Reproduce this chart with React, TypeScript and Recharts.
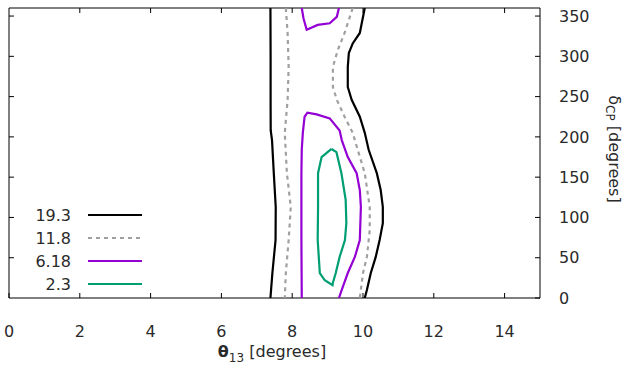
import React from "react";
import { ScatterChart, Scatter, XAxis, YAxis, ReferenceLine } from "recharts";

type P = { x: number; y: number };

const xTicks = [0, 2, 4, 6, 8, 10, 12, 14];
const yTicks = [0, 50, 100, 150, 200, 250, 300, 350];
const X_MAX = 15;
const Y_MAX = 360;

const levelLabels = ["19.3", "11.8", "6.18", "2.3"];
const levelColors = ["#000000", "#a0a0a0", "#9400d3", "#009e73"];
const levelDash = ["", "4 4", "", ""];

// 19.3 contour (two branches)
const c193Left: P[] = [
  { x: 7.385, y: 360 }, { x: 7.39, y: 300 }, { x: 7.39, y: 240 }, { x: 7.393, y: 208 },
  { x: 7.43, y: 196 }, { x: 7.48, y: 155 }, { x: 7.535, y: 113 }, { x: 7.53, y: 72 },
  { x: 7.44, y: 31 }, { x: 7.385, y: 0 },
];
const c193Right: P[] = [
  { x: 10.05, y: 360 }, { x: 9.91, y: 329 }, { x: 9.71, y: 316 }, { x: 9.6, y: 304 },
  { x: 9.57, y: 287 }, { x: 9.57, y: 262 }, { x: 9.68, y: 246 }, { x: 9.91, y: 225 },
  { x: 10.05, y: 205 }, { x: 10.16, y: 184 }, { x: 10.39, y: 155 }, { x: 10.5, y: 134 },
  { x: 10.56, y: 113 }, { x: 10.56, y: 93 }, { x: 10.47, y: 72 }, { x: 10.36, y: 51 },
  { x: 10.22, y: 31 }, { x: 10.11, y: 10 }, { x: 10.05, y: 0 },
];
// 11.8 contour
const c118Left: P[] = [
  { x: 7.82, y: 360 }, { x: 7.87, y: 329 }, { x: 7.9, y: 287 }, { x: 7.87, y: 246 },
  { x: 7.79, y: 205 }, { x: 7.85, y: 155 }, { x: 7.96, y: 113 }, { x: 7.9, y: 72 },
  { x: 7.82, y: 31 }, { x: 7.79, y: 0 },
];
const c118Right: P[] = [
  { x: 9.71, y: 360 }, { x: 9.48, y: 329 }, { x: 9.29, y: 308 }, { x: 9.15, y: 287 },
  { x: 9.15, y: 262 }, { x: 9.26, y: 246 }, { x: 9.48, y: 225 }, { x: 9.71, y: 205 },
  { x: 9.85, y: 184 }, { x: 10.05, y: 155 }, { x: 10.19, y: 113 }, { x: 10.19, y: 84 },
  { x: 10.11, y: 51 }, { x: 10.0, y: 31 }, { x: 9.91, y: 0 },
];
// 6.18 contour
const c618Top: P[] = [
  { x: 8.27, y: 360 }, { x: 8.32, y: 347 }, { x: 8.41, y: 333 }, { x: 8.72, y: 339 },
  { x: 9.06, y: 341 }, { x: 9.26, y: 349 }, { x: 9.32, y: 360 },
];
const c618Bottom: P[] = [
  { x: 8.27, y: 0 }, { x: 8.26, y: 72 }, { x: 8.26, y: 155 }, { x: 8.27, y: 184 },
  { x: 8.3, y: 205 }, { x: 8.35, y: 225 }, { x: 8.43, y: 230 }, { x: 8.69, y: 228 },
  { x: 9.06, y: 223 }, { x: 9.34, y: 208 }, { x: 9.4, y: 196 }, { x: 9.57, y: 175 },
  { x: 9.82, y: 155 }, { x: 9.91, y: 134 }, { x: 9.94, y: 113 }, { x: 9.91, y: 72 },
  { x: 9.77, y: 51 }, { x: 9.57, y: 31 }, { x: 9.4, y: 10 }, { x: 9.32, y: 0 },
];
// 2.3 contour (closed)
const c23: P[] = [
  { x: 9.11, y: 185 }, { x: 9.25, y: 181 }, { x: 9.39, y: 155 }, { x: 9.51, y: 122 },
  { x: 9.53, y: 93 }, { x: 9.49, y: 72 }, { x: 9.34, y: 51 }, { x: 9.23, y: 31 },
  { x: 9.15, y: 19 }, { x: 9.14, y: 16 }, { x: 8.92, y: 22 }, { x: 8.78, y: 31 },
  { x: 8.72, y: 72 }, { x: 8.73, y: 113 }, { x: 8.73, y: 155 }, { x: 8.83, y: 175 },
  { x: 9.11, y: 185 },
];

const series: { data: P[]; level: number }[] = [
  { data: c193Left, level: 0 },
  { data: c193Right, level: 0 },
  { data: c118Left, level: 1 },
  { data: c118Right, level: 1 },
  { data: c618Top, level: 2 },
  { data: c618Bottom, level: 2 },
  { data: c23, level: 3 },
];

const FONT = "'DejaVu Sans', 'Liberation Sans', Arial, sans-serif";
const TXT = "#2a2a2a";
const FS = 16;

// mirrored tick length (about 5px) expressed in data units
const TICK_X = 0.14;
const TICK_Y = 6.2;

const NoShape = () => <g />;

export default function App() {
  return (
    <div style={{ position: "absolute", left: 0, top: 0, width: 623, height: 367 }}>
      <ScatterChart
        width={623}
        height={367}
        margin={{ top: 8, right: 0, bottom: 0, left: 9 }}
        style={{ fontFamily: FONT }}
      >
        <XAxis
          xAxisId="b"
          type="number"
          dataKey="x"
          domain={[0, X_MAX]}
          ticks={xTicks}
          interval={0}
          orientation="bottom"
          height={69}
          allowDataOverflow
          stroke="#000"
          tickSize={-5}
          tickMargin={33}
          tickLine={{ stroke: "#000" }}
          axisLine={{ stroke: "#000" }}
          tick={{ fill: TXT, fontSize: FS, fontFamily: FONT }}
        />
        <YAxis
          yAxisId="r"
          type="number"
          dataKey="y"
          domain={[0, Y_MAX]}
          ticks={yTicks}
          interval={0}
          orientation="right"
          width={83}
          allowDataOverflow
          stroke="#000"
          tickSize={-5}
          tickMargin={24}
          tickLine={{ stroke: "#000" }}
          axisLine={{ stroke: "#000" }}
          tick={{ fill: TXT, fontSize: FS, fontFamily: FONT, textAnchor: "start" }}
        />
        <ReferenceLine xAxisId="b" yAxisId="r" y={Y_MAX} stroke="#000" strokeWidth={1} ifOverflow="visible" />
        <ReferenceLine xAxisId="b" yAxisId="r" x={0} stroke="#000" strokeWidth={1} ifOverflow="visible" />
        {xTicks.slice(1).map((t) => (
          <ReferenceLine
            key={"tx" + t}
            xAxisId="b"
            yAxisId="r"
            segment={[{ x: t, y: Y_MAX }, { x: t, y: Y_MAX - TICK_Y }]}
            stroke="#000"
            strokeWidth={1}
            ifOverflow="visible"
          />
        ))}
        {yTicks.slice(1).map((t) => (
          <ReferenceLine
            key={"ty" + t}
            xAxisId="b"
            yAxisId="r"
            segment={[{ x: 0, y: t }, { x: TICK_X, y: t }]}
            stroke="#000"
            strokeWidth={1}
            ifOverflow="visible"
          />
        ))}
        {series.map((s, i) => (
          <Scatter
            key={i}
            xAxisId="b"
            yAxisId="r"
            data={s.data}
            fill={levelColors[s.level]}
            line={{
              stroke: levelColors[s.level],
              strokeWidth: 2.2,
              strokeDasharray: levelDash[s.level] || undefined,
            }}
            lineType="joint"
            shape={NoShape}
            legendType="none"
            isAnimationActive={false}
          />
        ))}
      </ScatterChart>
      <svg
        width={623}
        height={367}
        style={{ position: "absolute", left: 0, top: 0, pointerEvents: "none" }}
      >
        {levelLabels.map((lab, i) => {
          const cy = 215 + i * 23;
          return (
            <g key={lab}>
              <text
                x={71}
                y={cy + 6}
                textAnchor="end"
                fontFamily={FONT}
                fontSize={FS}
                fill={TXT}
              >
                {lab}
              </text>
              <line
                x1={88}
                x2={142}
                y1={cy}
                y2={cy}
                stroke={levelColors[i]}
                strokeWidth={2.2}
                strokeDasharray={levelDash[i] || undefined}
              />
            </g>
          );
        })}
        <text
          x={272}
          y={357}
          textAnchor="middle"
          fontFamily={FONT}
          fontSize={FS}
          fill={TXT}
        >
          <tspan fontWeight="bold">θ</tspan>
          <tspan fontSize={12} dy={5}>13</tspan>
          <tspan dy={-5}> [degrees]</tspan>
        </text>
        <text
          transform="translate(609,149) rotate(90)"
          x={0}
          y={0}
          textAnchor="middle"
          fontFamily={FONT}
          fontSize={FS}
          fill={TXT}
        >
          <tspan>δ</tspan>
          <tspan fontSize={12} dy={3}>CP</tspan>
          <tspan dy={-3}> [degrees]</tspan>
        </text>
      </svg>
    </div>
  );
}
